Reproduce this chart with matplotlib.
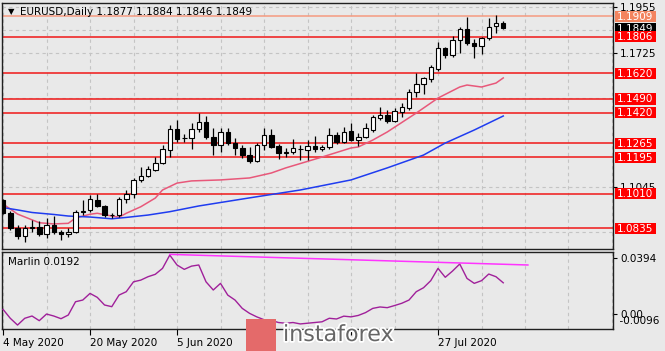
import numpy as np
import matplotlib
matplotlib.use("Agg")
import matplotlib.pyplot as plt
import matplotlib.transforms as mtransforms
from matplotlib.patches import Rectangle
import matplotlib.patheffects as pe

# ---------------- data ----------------
symbol_title = "EURUSD,Daily"
last_ohlc = [1.1877, 1.1884, 1.1846, 1.1849]

opens = [1.0980, 1.0910, 1.0838, 1.0795, 1.0835, 1.0840, 1.0808, 1.0850, 1.0818, 1.0805,
         1.0815, 1.0915, 1.0928, 1.0980, 1.0950, 1.0900, 1.0900, 1.0982, 1.1008, 1.1078,
         1.1100, 1.1132, 1.1167, 1.1232, 1.1337, 1.1290, 1.1292, 1.1338, 1.1375, 1.1297,
         1.1255, 1.1325, 1.1266, 1.1244, 1.1207, 1.1175, 1.1257, 1.1308, 1.1250, 1.1215,
         1.1222, 1.1238, 1.1233, 1.1252, 1.1237, 1.1245, 1.1308, 1.1272, 1.1328, 1.1283,
         1.1298, 1.1335, 1.1395, 1.1409, 1.1380, 1.1422, 1.1445, 1.1527, 1.1565, 1.1590,
         1.1640, 1.1747, 1.1713, 1.1788, 1.1844, 1.1773, 1.1760, 1.1798, 1.1860, 1.1877]
highs = [1.0985, 1.0920, 1.0850, 1.0852, 1.0877, 1.0874, 1.0888, 1.0895, 1.0825, 1.0835,
         1.0928, 1.0978, 1.1004, 1.1009, 1.0955, 1.0912, 1.0995, 1.1030, 1.1090, 1.1147,
         1.1150, 1.1196, 1.1257, 1.1360, 1.1384, 1.1313, 1.1367, 1.1420, 1.1404, 1.1345,
         1.1345, 1.1345, 1.1291, 1.1257, 1.1248, 1.1266, 1.1345, 1.1337, 1.1262, 1.1240,
         1.1288, 1.1257, 1.1280, 1.1303, 1.1257, 1.1345, 1.1325, 1.1350, 1.1370, 1.1316,
         1.1370, 1.1410, 1.1452, 1.1435, 1.1445, 1.1468, 1.1540, 1.1624, 1.1602, 1.1663,
         1.1781, 1.1755, 1.1810, 1.1854, 1.1905, 1.1793, 1.1806, 1.1900, 1.1916, 1.1884]
lows = [1.0908, 1.0826, 1.0782, 1.0767, 1.0817, 1.0795, 1.0784, 1.0805, 1.0775, 1.0793,
        1.0810, 1.0902, 1.0919, 1.0944, 1.0890, 1.0885, 1.0890, 1.0965, 1.0990, 1.1070,
        1.1095, 1.1125, 1.1160, 1.1198, 1.1274, 1.1274, 1.1235, 1.1325, 1.1286, 1.1207,
        1.1223, 1.1257, 1.1207, 1.1190, 1.1168, 1.1170, 1.1232, 1.1240, 1.1185, 1.1198,
        1.1213, 1.1180, 1.1182, 1.1223, 1.1225, 1.1238, 1.1262, 1.1265, 1.1279, 1.1252,
        1.1295, 1.1325, 1.1384, 1.1367, 1.1375, 1.1401, 1.1435, 1.1502, 1.1515, 1.1578,
        1.1634, 1.1697, 1.1705, 1.1722, 1.1764, 1.1696, 1.1717, 1.1789, 1.1823, 1.1846]
closes = [1.0910, 1.0838, 1.0795, 1.0835, 1.0840, 1.0808, 1.0850, 1.0818, 1.0805, 1.0818,
          1.0915, 1.0925, 1.0982, 1.0950, 1.0902, 1.0902, 1.0982, 1.1008, 1.1078, 1.1100,
          1.1135, 1.1167, 1.1235, 1.1337, 1.1287, 1.1293, 1.1337, 1.1375, 1.1297, 1.1255,
          1.1325, 1.1266, 1.1243, 1.1207, 1.1175, 1.1257, 1.1308, 1.1248, 1.1215, 1.1220,
          1.1240, 1.1235, 1.1252, 1.1237, 1.1247, 1.1308, 1.1270, 1.1325, 1.1283, 1.1296,
          1.1342, 1.1401, 1.1410, 1.1381, 1.1430, 1.1448, 1.1527, 1.1566, 1.1595, 1.1654,
          1.1747, 1.1713, 1.1789, 1.1844, 1.1773, 1.1760, 1.1798, 1.1857, 1.1874, 1.1849]

# moving averages (bar index, value)
ma_fast_idx = [0, 2, 5, 7, 9, 10, 12, 13, 15, 16, 17, 19, 21, 22, 24, 26, 30, 34, 37, 39,
               44, 48, 49, 51, 53, 57, 60, 63, 64, 66, 68, 69]
ma_fast_val = [1.0958, 1.0907, 1.0863, 1.0857, 1.0860, 1.0887, 1.0906, 1.0911, 1.0897, 1.0891,
               1.0911, 1.0944, 1.0988, 1.1029, 1.1064, 1.1075, 1.1080, 1.1090, 1.1115, 1.1141,
               1.1196, 1.1242, 1.1247, 1.1282, 1.1323, 1.1419, 1.1495, 1.1551, 1.1561, 1.1551,
               1.1571, 1.1597]
ma_slow_idx = [0, 2, 4, 7, 9, 12, 14, 15, 17, 20, 23, 27, 34, 41, 48, 53, 58, 61, 65, 69]
ma_slow_val = [1.0940, 1.0928, 1.0915, 1.0905, 1.0897, 1.0892, 1.0886, 1.0883, 1.0890, 1.0902,
               1.0919, 1.0948, 1.0989, 1.1029, 1.1080, 1.1141, 1.1206, 1.1267, 1.1333, 1.1404]

# horizontal levels
levels_red = [1.1806, 1.1620, 1.1490, 1.1420, 1.1265, 1.1195, 1.1010, 1.0835]
level_salmon = 1.1909
price_ticks = [1.1955, 1.1725, 1.1045]
price_grid = [1.1955, 1.1840, 1.1725, 1.1495, 1.1045, 1.0815]

# Marlin oscillator
marlin = [0.0033, -0.0030, -0.0078, -0.0030, -0.0014, -0.0047, 0.0000, -0.0014, -0.0033, -0.0007,
          0.0087, 0.0099, 0.0146, 0.0118, 0.0064, 0.0052, 0.0134, 0.0158, 0.0228, 0.0240,
          0.0264, 0.0281, 0.0323, 0.0417, 0.0347, 0.0316, 0.0339, 0.0347, 0.0228, 0.0170,
          0.0217, 0.0134, 0.0099, 0.0040, 0.0005, -0.0020, -0.0040, -0.0045, -0.0060, -0.0065,
          -0.0060, -0.0070, -0.0065, -0.0060, -0.0055, -0.0030, -0.0035, -0.0015, -0.0020, -0.0010,
          0.0010, 0.0040, 0.0050, 0.0045, 0.0060, 0.0076, 0.0099, 0.0158, 0.0186, 0.0236,
          0.0323, 0.0260, 0.0304, 0.0354, 0.0252, 0.0217, 0.0236, 0.0283, 0.0264, 0.0221]
marlin_label = "Marlin 0.0192"
marlin_trend_idx = [23, 72.4]
marlin_trend_val = [0.0422, 0.0347]
marlin_ticks = [0.0394, 0.0]
marlin_tick_labels = ["0.0394", "0.00"]
marlin_min_label = "-0.0096"

date_tick_idx = [0, 12, 24, 36, 48, 60]
date_tick_labels = ["4 May 2020", "20 May 2020", "5 Jun 2020", "", "", "27 Jul 2020"]

# ---------------- layout ----------------
W, H = 665, 351
BG = "#e9e9e9"
fig = plt.figure(figsize=(W / 100, H / 100), dpi=100)
fig.patch.set_facecolor(BG)

def px_axes(x0, y0, x1, y1):
    return fig.add_axes([x0 / W, 1 - y1 / H, (x1 - x0) / W, (y1 - y0) / H])

AX_X0, AX_X1 = 1.5, 613.3
ax = px_axes(AX_X0, 2.7, AX_X1, 249.3)
ax2 = px_axes(AX_X0, 251.7, AX_X1, 329.3)

XMIN, XMAX = -0.21, 84.18
YMIN, YMAX = 1.07284, 1.19783
for a in (ax, ax2):
    a.set_facecolor(BG)
    a.set_xlim(XMIN, XMAX)
    for s in a.spines.values():
        s.set_color("#202020")
        s.set_linewidth(1.0)

ax.set_ylim(YMIN, YMAX)
ax2.set_ylim(-0.0108, 0.0441)

FS = 7.5
GRID = dict(color="#c4c4c4", lw=0.8, linestyle=(0, (3, 3)), zorder=1)

# grid
for k in range(0, 85, 6):
    ax.axvline(k, **GRID)
    ax2.axvline(k, **GRID)
for g in price_grid:
    ax.axhline(g, **GRID)

# levels
for lv in levels_red:
    ax.axhline(lv, color="#f01818", lw=1.1, zorder=2)
ax.axhline(level_salmon, color="#f59a80", lw=1.1, zorder=2)

# moving averages
ax.plot(ma_fast_idx, ma_fast_val, color="#e8587a", lw=1.1, zorder=2.5)
ax.plot(ma_slow_idx, ma_slow_val, color="#1f3cf0", lw=1.1, zorder=2.5)

# candles
o = np.array(opens); c = np.array(closes); hh = np.array(highs); ll = np.array(lows)
idx = np.arange(len(o))
ax.vlines(idx, ll, hh, color="black", lw=0.9, zorder=3)
bottom = np.minimum(o, c)
height = np.maximum(np.abs(c - o), 0.00006)
cols = ["white" if cc >= oo else "black" for oo, cc in zip(o, c)]
ax.bar(idx, height, bottom=bottom, width=0.62, color=cols, edgecolor="black", lw=0.8, zorder=4)

# price axis
ax.yaxis.tick_right()
ax.set_yticks(price_ticks)
ax.set_yticklabels([f"{v:.4f}" for v in price_ticks])
ax.tick_params(axis="y", length=3, width=0.8, pad=2, labelsize=FS, colors="black")
ax.set_xticks([])

# right label boxes
trans = mtransforms.blended_transform_factory(ax.transAxes, ax.transData)
ax_w_px = AX_X1 - AX_X0
ppx = (YMAX - YMIN) / (249.3 - 2.7)

def label_box(level, fc, tc, z):
    x0 = (614.5 - AX_X0) / ax_w_px
    w = 41.5 / ax_w_px
    ax.add_patch(Rectangle((x0, level - 5.6 * ppx), w, 11.2 * ppx, transform=trans,
                           fc=fc, ec="none", clip_on=False, zorder=z))
    ax.text(x0 + w / 2, level - 0.4 * ppx, f"{level:.4f}", transform=trans, ha="center",
            va="center", color=tc, fontsize=FS, clip_on=False, zorder=z + 0.1)

label_box(level_salmon, "#f3845f", "white", 10)
label_box(closes[-1], "black", "white", 11)
z = 12
for lv in levels_red:
    label_box(lv, "#ff0000", "white", z)
    z += 1

# title
ax.text(6.5 / ax_w_px, 1 - 9.3 / 246.6, "\u25BC", transform=ax.transAxes, ha="left",
        va="center", fontsize=6, color="black", zorder=20)
ax.text(19 / ax_w_px, 1 - 9.3 / 246.6,
        symbol_title + " " + " ".join(f"{v:.4f}" for v in last_ohlc),
        transform=ax.transAxes, ha="left", va="center", fontsize=FS, color="black", zorder=20)

# ---------------- Marlin panel ----------------
ax2.plot(idx, marlin, color="#a0209a", lw=1.0, zorder=3)
ax2.plot(marlin_trend_idx, marlin_trend_val, color="#ff33ff", lw=1.1, zorder=3)
ax2.text(6 / ax_w_px, 1 - 10 / 77.6, marlin_label, transform=ax2.transAxes, ha="left",
         va="center", fontsize=FS, color="black")
ax2.yaxis.tick_right()
ax2.set_yticks(marlin_ticks)
ax2.set_yticklabels(marlin_tick_labels)
ax2.tick_params(axis="y", length=3, width=0.8, pad=2, labelsize=FS, colors="black")
ax2.text(1.0, 8.3 / 77.6, "  " + marlin_min_label, transform=ax2.transAxes, ha="left",
         va="center", fontsize=FS, color="black")

ax2.set_xticks(date_tick_idx)
ax2.set_xticklabels(date_tick_labels, ha="left")
ax2.tick_params(axis="x", length=4, width=0.8, pad=2, labelsize=FS, colors="black")

# watermark logo
fig.add_artist(Rectangle((246 / W, 0), 30 / W, (351 - 319) / H, transform=fig.transFigure,
                         fc="#e46a6a", ec="none", zorder=30))
fig.text(283 / W, 1 - 335 / H, "instaforex", fontsize=16, color="#666666", ha="left",
         va="center", zorder=31,
         path_effects=[pe.withStroke(linewidth=2.5, foreground="white")])

fig.savefig("out.png", dpi=100, facecolor=BG)
